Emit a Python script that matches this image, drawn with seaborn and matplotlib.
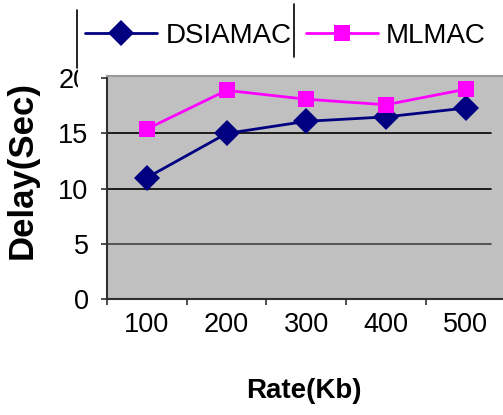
import matplotlib
matplotlib.use("Agg")
import matplotlib.pyplot as plt
from matplotlib.lines import Line2D
from matplotlib.patches import Rectangle
import seaborn as sns
import pandas as pd

categories = ["100", "200", "300", "400", "500"]
dsiamac = [11.0, 15.0, 16.1, 16.5, 17.3]
mlmac = [15.4, 18.9, 18.1, 17.6, 19.0]
y_ticks = [0, 5, 10, 15, 20]
series_names = ["DSIAMAC", "MLMAC"]

df = pd.DataFrame({
    "x": list(range(len(categories))) * 2,
    "Delay": dsiamac + mlmac,
    "series": [series_names[0]] * len(categories) + [series_names[1]] * len(categories),
})

sns.set_theme(style="white")
plt.rcParams["font.family"] = ["Liberation Sans", "DejaVu Sans"]
for k in ["text.color", "axes.labelcolor", "xtick.color", "ytick.color"]:
    plt.rcParams[k] = "black"

W, H = 503, 415
fig = plt.figure(figsize=(W / 100, H / 100), dpi=100)
ax = fig.add_axes([107 / W, 1 - 299.3 / H, 1.0 - 107 / W, (299.3 - 76) / H])
ax.set_facecolor("#C0C0C0")

colors = {"DSIAMAC": "#000080", "MLMAC": "#FF00FF"}
sns.lineplot(data=df, x="x", y="Delay", hue="series", style="series",
             palette=colors, markers={"DSIAMAC": "D", "MLMAC": "s"},
             dashes=False, linewidth=2, markeredgewidth=0,
             ax=ax, legend=False, zorder=5)
for ln in ax.get_lines():
    if ln.get_marker() == "D":
        ln.set_markersize(13)
    elif ln.get_marker() == "s":
        ln.set_markersize(11)

ax.set_ylim(0, 20.2)
ax.set_xlim(-0.5, 4.47)

# grid lines (stop short of the right edge)
for yv, c in [(5, "#404040"), (10, "black"), (15, "black")]:
    ax.axhline(yv, xmin=0, xmax=0.97, color=c, linewidth=1.2, zorder=1)

ax.set_yticks(y_ticks)
ax.set_yticklabels([str(v) for v in y_ticks], fontsize=19.5)
ax.set_xticks([-0.5, 0.5, 1.5, 2.5, 3.5])
ax.set_xticklabels([])
ax.set_xticks(range(len(categories)), minor=True)
ax.set_xticklabels(categories, minor=True, fontsize=19.5)
ax.tick_params(axis="x", which="major", direction="out", length=4.3, width=1.2,
               color="#303030", bottom=True)
ax.tick_params(axis="x", which="minor", length=0, pad=9)
ax.tick_params(axis="y", direction="out", length=4.3, width=1.2, color="#303030",
               left=True, pad=9)

for s in ["left", "bottom"]:
    ax.spines[s].set_color("#303030")
    ax.spines[s].set_linewidth(1.5)
ax.spines["top"].set_color("#9a9a9a")
ax.spines["top"].set_linewidth(1.5)
ax.spines["right"].set_visible(False)

ax.set_xlabel("")
ax.set_ylabel("")
fig.text(304 / W, 1 - 391 / H, "Rate(Kb)", ha="center", va="center",
         fontsize=20, fontweight="bold")
fig.text(22 / W, 1 - 170 / H, "Delay(Sec)", ha="center", va="center",
         rotation=90, fontsize=25, fontweight="bold")

# legend
handles = [Line2D([], [], color=colors[n], marker=m, markersize=m_s,
                  markeredgewidth=0, linewidth=2)
           for n, m, m_s in [("DSIAMAC", "D", 13), ("MLMAC", "s", 11)]]
fig.legend(handles, series_names, loc="center left",
           bbox_to_anchor=(85 / W, 1 - 36 / H), ncol=2, frameon=False,
           fontsize=20, handlelength=2.6, handletextpad=0.3,
           columnspacing=0.5, borderpad=0, borderaxespad=0)

# legend box remnants and mask over the clipped "20" label
fig.add_artist(Rectangle((78 / W, 1 - 92 / H), (99 - 78) / W, 40 / H,
                         transform=fig.transFigure, facecolor="white",
                         edgecolor="none", zorder=10))
fig.add_artist(Line2D([77 / W, 77 / W], [1 - 10 / H, 1 - 68 / H],
                      transform=fig.transFigure, color="black", linewidth=1.2,
                      zorder=11))
fig.add_artist(Line2D([294 / W, 294 / W], [1 - 4 / H, 1 - 57 / H],
                      transform=fig.transFigure, color="black", linewidth=1.2,
                      zorder=11))

fig.savefig("out.png", dpi=100)
